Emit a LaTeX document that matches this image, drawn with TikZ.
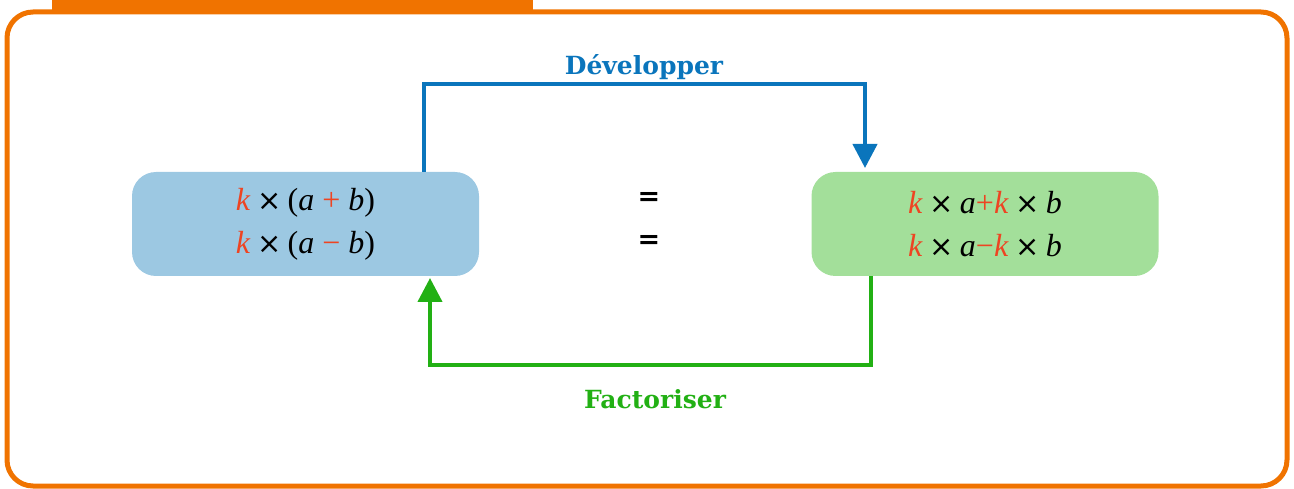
\documentclass[tikz,border=0pt]{standalone}
\usepackage{fontspec}
\setmainfont{Liberation Serif}
\setsansfont{DejaVu Sans}
\newfontfamily\lblfont{DejaVu Serif}
\newfontfamily\symfont{DejaVu Sans}
\usetikzlibrary{arrows.meta}
\definecolor{frameor}{HTML}{F07300}
\definecolor{boxblue}{HTML}{9CC8E2}
\definecolor{boxgreen}{HTML}{A3DF9A}
\definecolor{arrblue}{HTML}{0A75BC}
\definecolor{arrgreen}{HTML}{22B014}
\definecolor{kred}{HTML}{EE4422}
\newcommand{\kk}{\textcolor{kred}{\textit{k}}}
\newcommand{\vv}[1]{\textit{#1}}
\newcommand{\tm}{\hspace{0.22em}{\symfont\fontsize{29}{29}\selectfont ×}\hspace{0.18em}}
\begin{document}
\begin{tikzpicture}[x=1pt,y=-1pt,
  exprbox/.style={rounded corners=24pt, inner sep=0pt, minimum width=347pt, minimum height=104pt, align=center, font=\fontsize{32}{44}\selectfont},
  flow/.style={line width=4.2pt, -{Triangle[length=24pt,width=24pt]}},
  lbl/.style={font=\lblfont\fontsize{25}{28}\selectfont\bfseries},
  eqsign/.style={font=\sffamily\bfseries\fontsize{27}{30}\selectfont}]
\useasboundingbox (0,0) rectangle (1294,489);
\fill[frameor] (52,-5) rectangle (533,12);
\draw[frameor, line width=5pt, rounded corners=26pt] (7,12) rectangle (1287,486);
\node[exprbox, fill=boxblue] (L) at (305.5,224) {\kk{}\tm(\vv{a} \textcolor{kred}{+} \vv{b})\\[-1pt] \kk{}\tm(\vv{a} \textcolor{kred}{−} \vv{b})};
\node[exprbox, fill=boxgreen] (R) at (985,224) {\kk{}\tm\vv{a}\textcolor{kred}{+}\kk{}\tm\vv{b}\\[-1pt] \kk{}\tm\vv{a}\textcolor{kred}{−}\kk{}\tm\vv{b}};
\node[eqsign] (eq1) at (649,199) {=};
\node[eqsign] (eq2) at (649,242) {=};
\coordinate (bs) at (424,172);
\coordinate (be) at (865,168);
\draw[flow, arrblue] (bs) -- (424,84) -- (865,84) -- (be);
\coordinate (gs) at (871,276);
\coordinate (ge) at (430,278);
\draw[flow, arrgreen] (gs) -- (871,365) -- (430,365) -- (ge);
\node[lbl, text=arrblue] (dev) at (644,67) {Développer};
\node[lbl, text=arrgreen] (fac) at (655,399) {Factoriser};
\end{tikzpicture}
\end{document}
